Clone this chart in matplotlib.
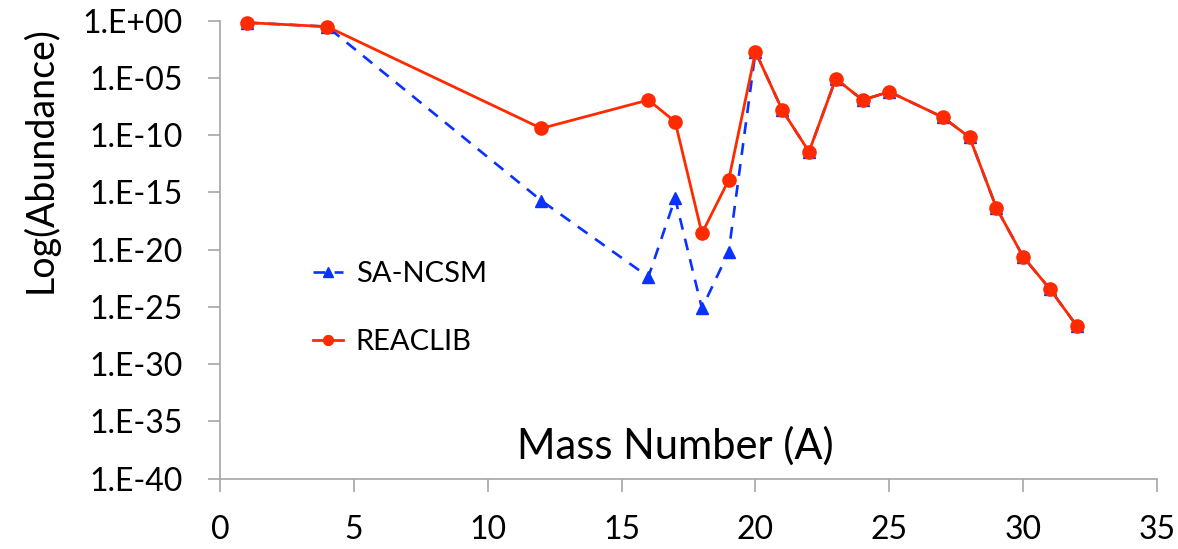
import matplotlib
matplotlib.use("Agg")
import matplotlib.pyplot as plt
import numpy as np

# Mass numbers and log10 abundances for the two rate sets
mass_number = [1, 4, 12, 16, 17, 18, 19, 20, 21, 22, 23, 24, 25, 27, 28, 29, 30, 31, 32]
log_reaclib = [-0.17, -0.52, -9.41, -6.93, -8.83, -18.58, -13.92, -2.71, -7.81, -11.45,
               -5.07, -6.93, -6.21, -8.44, -10.19, -16.35, -20.63, -23.45, -26.66]
log_sancsm = [-0.17, -0.52, -15.72, -22.38, -15.52, -25.14, -20.19, -2.71, -7.81, -11.45,
              -5.07, -6.93, -6.21, -8.44, -10.19, -16.35, -20.63, -23.45, -26.66]

y_ticks = [1e0, 1e-5, 1e-10, 1e-15, 1e-20, 1e-25, 1e-30, 1e-35, 1e-40]
y_tick_labels = ["1.E+00", "1.E-05", "1.E-10", "1.E-15", "1.E-20",
                 "1.E-25", "1.E-30", "1.E-35", "1.E-40"]
x_ticks = [0, 5, 10, 15, 20, 25, 30, 35]

plt.rcParams['font.family'] = ['Lato', 'DejaVu Sans']

fig = plt.figure(figsize=(11.78, 5.49), dpi=100)
ax = fig.add_axes([0.1868, 0.1284, 0.7954, 0.8339])

sancsm = 10.0 ** np.array(log_sancsm)
reaclib = 10.0 ** np.array(log_reaclib)

ax.plot(mass_number, sancsm, color='#0a32ff', linestyle=(0, (4.5, 3.5)), linewidth=1.9,
        marker='^', markersize=9, label='SA-NCSM', clip_on=False, zorder=3)
ax.plot(mass_number, reaclib, color='#ff2a00', linewidth=2.0,
        marker='o', markersize=9.5, label='REACLIB', clip_on=False, zorder=4)

ax.set_yscale('log')
ax.set_ylim(1e-40, 1e0)
ax.set_xlim(0, 35)
ax.set_yticks(y_ticks)
ax.set_yticklabels(y_tick_labels)
ax.minorticks_off()
ax.set_xticks(x_ticks)

axis_grey = '#a6a6a6'
for side in ['top', 'right']:
    ax.spines[side].set_visible(False)
for side in ['left', 'bottom']:
    ax.spines[side].set_color(axis_grey)
    ax.spines[side].set_linewidth(1.2)
ax.tick_params(axis='y', direction='out', length=9, width=1.2, color=axis_grey,
               labelsize=23, pad=18)
ax.tick_params(axis='x', direction='out', length=9, width=1.2, color=axis_grey,
               labelsize=23, pad=17)

ax.set_xlabel('Mass Number (A)', fontsize=30, va='center')
ax.xaxis.set_label_coords(0.486, 0.07)
ax.set_ylabel('Log(Abundance)', fontsize=27, va='center')
ax.yaxis.set_label_coords(-0.192, 0.696)

ax.legend(loc='center left', bbox_to_anchor=(0.099, 0.372), frameon=False,
          fontsize=21, borderpad=0, borderaxespad=0, handlelength=1.05,
          handletextpad=0.42, labelspacing=1.45, markerscale=0.75)

fig.savefig('out.png', dpi=100)
